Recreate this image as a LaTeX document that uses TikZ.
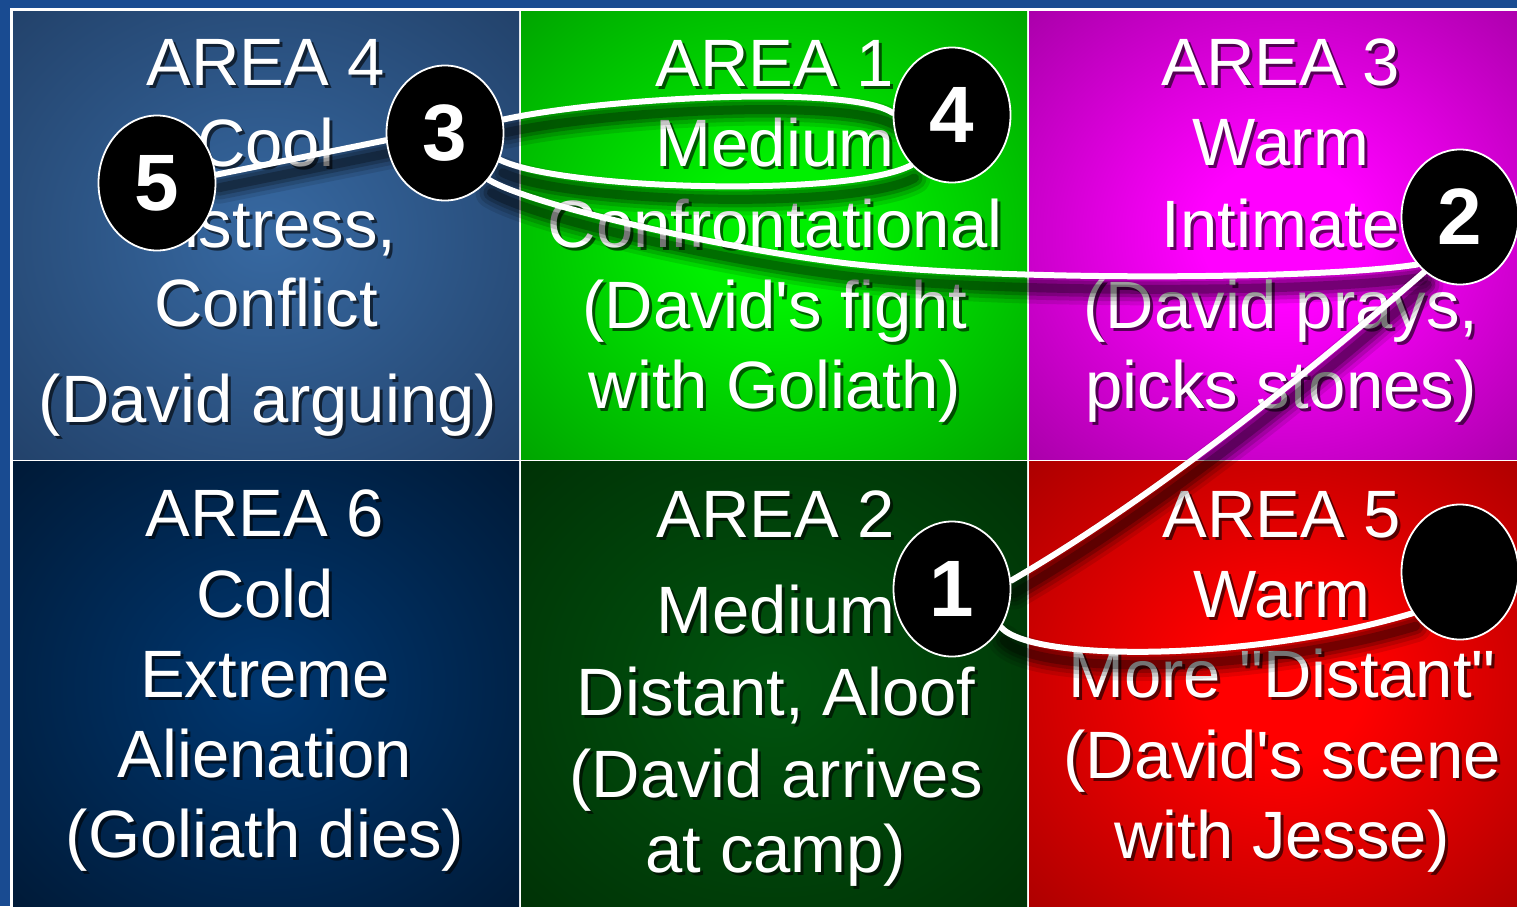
\documentclass[tikz,border=0pt]{standalone}
\usepackage{fontspec}
\newfontfamily\af{Liberation Sans}
\usetikzlibrary{shapes.geometric}
\pgfdeclarelayer{bg}
\pgfdeclarelayer{wires}
\pgfsetlayers{bg,wires,main}

\definecolor{bgblue}{RGB}{25,75,145}
\definecolor{aFourIn}{RGB}{55,105,162}
\definecolor{aFourOut}{RGB}{26,50,84}
\definecolor{aOneIn}{RGB}{0,240,0}
\definecolor{aOneOut}{RGB}{0,125,0}
\definecolor{aThreeIn}{RGB}{255,0,255}
\definecolor{aThreeOut}{RGB}{125,0,125}
\definecolor{aSixIn}{RGB}{0,55,112}
\definecolor{aSixOut}{RGB}{0,14,32}
\definecolor{aTwoIn}{RGB}{0,84,14}
\definecolor{aTwoOut}{RGB}{0,36,2}
\definecolor{aFiveIn}{RGB}{255,0,0}
\definecolor{aFiveOut}{RGB}{128,0,0}

\pgfdeclareradialshading{shFour}{\pgfpointorigin}{color(0bp)=(aFourIn); color(50bp)=(aFourOut); color(100bp)=(aFourOut)}
\pgfdeclareradialshading{shOne}{\pgfpointorigin}{color(0bp)=(aOneIn); color(8bp)=(aOneIn); color(50bp)=(aOneOut); color(100bp)=(aOneOut)}
\pgfdeclareradialshading{shThree}{\pgfpointorigin}{color(0bp)=(aThreeIn); color(8bp)=(aThreeIn); color(50bp)=(aThreeOut); color(100bp)=(aThreeOut)}
\pgfdeclareradialshading{shSix}{\pgfpointorigin}{color(0bp)=(aSixIn); color(50bp)=(aSixOut); color(100bp)=(aSixOut)}
\pgfdeclareradialshading{shTwo}{\pgfpointorigin}{color(0bp)=(aTwoIn); color(50bp)=(aTwoOut); color(100bp)=(aTwoOut)}
\pgfdeclareradialshading{shFive}{\pgfpointorigin}{color(0bp)=(aFiveIn); color(8bp)=(aFiveIn); color(50bp)=(aFiveOut); color(100bp)=(aFiveOut)}

\newcommand\tl[4]{%
  \node[txtsh] (#1s) at (#2+3,#3+3) {#4};
  \node[txt] (#1) at (#2,#3) {#4};}
\newcommand\wire[1]{%
  \draw[wsh, line width=32pt, opacity=0.10] #1;
  \draw[wsh, line width=24pt, opacity=0.14] #1;
  \draw[wsh, line width=16pt, opacity=0.2] #1;
  \draw[wsh, line width=9pt, opacity=0.25] #1;
  \draw[wline] #1;}

\begin{document}
\begin{tikzpicture}[x=1pt,y=-1pt,
  txt/.style={font=\af\fontsize{67}{80}\selectfont, text=white, anchor=base, inner sep=0pt},
  txtsh/.style={txt, text=black, opacity=0.6},
  num/.style={ellipse, fill=black, draw=white, line width=1.8pt,
    minimum width=117pt, minimum height=135pt, inner sep=0pt, text=white,
    font=\af\bfseries\fontsize{80}{80}\selectfont},
  wline/.style={white, line width=6pt, line cap=round},
  wsh/.style={black, line cap=round, transform canvas={shift={(3,13)}}}]
\useasboundingbox (0,0) rectangle (1517,906);

\begin{pgfonlayer}{bg}
  \fill[bgblue] (0,0) rectangle (1517,906);
  \fill[white] (10,8) rectangle (1540,920);
  \shade[shading=shFour]  (13,11)   rectangle (519,459);
  \shade[shading=shOne]   (521,11)  rectangle (1027,459);
  \shade[shading=shThree] (1029,11) rectangle (1535,459);
  \shade[shading=shSix]   (13,461)  rectangle (519,911);
  \shade[shading=shTwo]   (521,461) rectangle (1027,911);
  \shade[shading=shFive]  (1029,461) rectangle (1535,911);

  % AREA 4
  \tl{fa}{266}{85}{AREA 4}
  \tl{fb}{266}{166}{Cool}
  \tl{fc}{266}{247}{Distress,}
  \tl{fd}{266}{326}{Conflict}
  \tl{fe}{268}{422}{(David arguing)}
  % AREA 1
  \tl{oa}{775}{86}{AREA 1}
  \tl{ob}{775}{166}{Medium}
  \tl{oc}{775}{247}{Confrontational}
  \tl{od}{775}{328}{(David's fight}
  \tl{oe}{775}{408}{with Goliath)}
  % AREA 3
  \tl{ta}{1281}{85}{AREA 3}
  \tl{tb}{1281}{165}{Warm}
  \tl{tc}{1281}{247}{Intimate}
  \tl{td}{1281}{328}{(David prays,}
  \tl{te}{1281}{408}{picks stones)}
  % AREA 6
  \tl{sa}{265}{536}{AREA 6}
  \tl{sb}{265}{617}{Cold}
  \tl{sc}{265}{697}{Extreme}
  \tl{sd}{265}{777}{Alienation}
  \tl{se}{265}{857}{(Goliath dies)}
  % AREA 2
  \tl{wa}{776}{537}{AREA 2}
  \tl{wb}{776}{633}{Medium}
  \tl{wc}{776}{715}{Distant, Aloof}
  \tl{wd}{776}{797}{(David arrives}
  \tl{we}{776}{872}{at camp)}
  % AREA 5
  \tl{va}{1282}{537}{AREA 5}
  \tl{vb}{1282}{617}{Warm}
  \tl{vc}{1282}{697}{More "Distant"}
  \tl{vd}{1282}{778}{(David's scene}
  \tl{ve}{1282}{858}{with Jesse)}
\end{pgfonlayer}

\node[num] (c5) at (157,183) {5};
\node[num] (c3) at (445,133) {3};
\node[num] (c4) at (952,115) {4};
\node[num] (c2) at (1460,217) {2};
\node[num] (c1) at (952,589) {1};
\node[num] (c6) at (1460,572) {};

\begin{pgfonlayer}{wires}
  \wire{(c5.8) -- (c3.187)}
  \wire{(c3.13) .. controls (600,98) and (850,84) .. (c4.178)}
  \wire{(c3.-26) .. controls (560,190) and (850,198) .. (c4.231)}
  \wire{(c3.-47) .. controls (530,205) and (720,248) .. (844,263) .. controls (993,281) and (1320,280) .. (c2.228)}
  \wire{(c2.237) .. controls (1300,380) and (1150,500) .. (c1.8)}
  \wire{(c1.-38) .. controls (1032,662) and (1250,662) .. (c6.221)}
\end{pgfonlayer}
\end{tikzpicture}
\end{document}
